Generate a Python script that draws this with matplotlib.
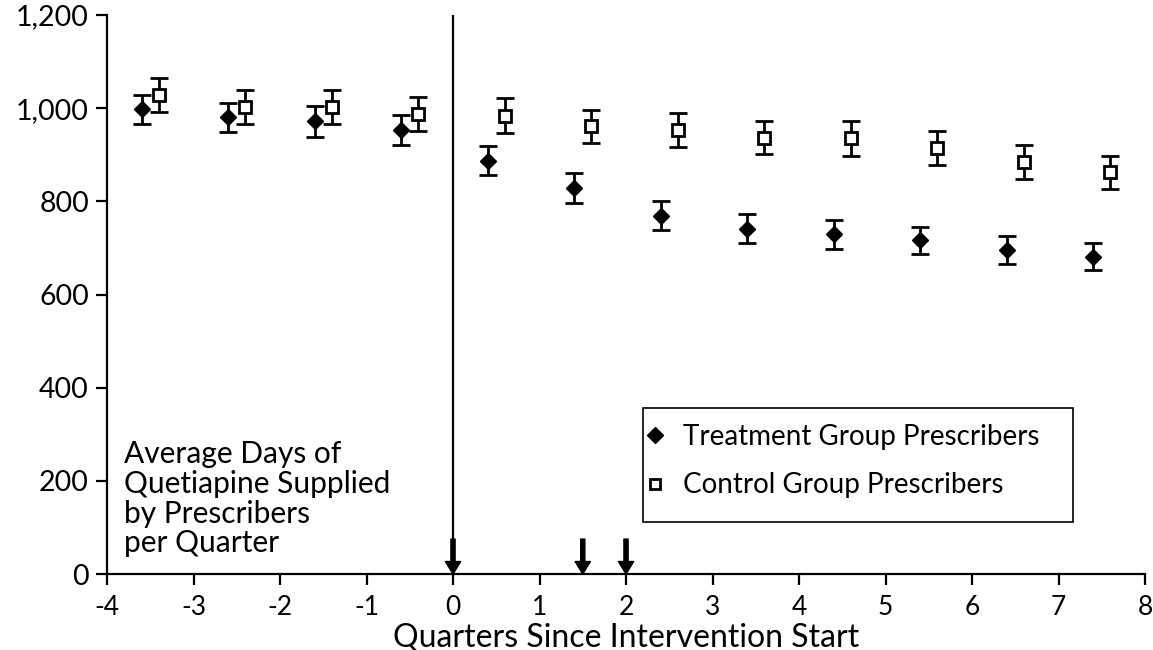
import matplotlib
matplotlib.use("Agg")
import matplotlib.pyplot as plt
from matplotlib.lines import Line2D
from matplotlib.patches import Rectangle
from matplotlib.ticker import FuncFormatter

plt.rcParams['font.family'] = ['Lato', 'DejaVu Sans']
plt.rcParams['axes.unicode_minus'] = False

# Data
treat_x = [-3.6, -2.6, -1.6, -0.6, 0.4, 1.4, 2.4, 3.4, 4.4, 5.4, 6.4, 7.4]
treat_y = [998, 980, 972, 953, 887, 828, 769, 741, 729, 716, 696, 681]
treat_err = [31, 32, 33, 33, 31, 32, 31, 31, 31, 30, 30, 29]

ctrl_x = [-3.4, -2.4, -1.4, -0.4, 0.6, 1.6, 2.6, 3.6, 4.6, 5.6, 6.6, 7.6]
ctrl_y = [1028, 1003, 1003, 987, 984, 961, 953, 937, 935, 915, 884, 862]
ctrl_err = [37, 36, 36, 36, 37, 36, 37, 36, 37, 37, 36, 36]

arrow_x = [0, 1.5, 2]
x_ticks = list(range(-4, 9))
y_ticks = [0, 200, 400, 600, 800, 1000, 1200]
labels = ['Treatment Group Prescribers', 'Control Group Prescribers']

fig = plt.figure(figsize=(11.53, 6.5), dpi=100)
ax = fig.add_axes([0.0928, 0.1169, 0.9003, 0.86])

ax.errorbar(treat_x, treat_y, yerr=treat_err, fmt='D', color='black',
            mfc='black', mec='black', ms=8.5, elinewidth=2, capsize=6.5,
            capthick=2, zorder=3)
ax.errorbar(ctrl_x, ctrl_y, yerr=ctrl_err, fmt='s', color='black',
            mfc='white', mec='black', ms=8, mew=2, elinewidth=2, capsize=6.5,
            capthick=2, zorder=3)

ax.plot([0, 0], [0, 1200], color='black', lw=1.6, zorder=2)

for xa in arrow_x:
    ax.annotate('', xy=(xa, 0), xytext=(xa, 75),
                arrowprops=dict(facecolor='black', edgecolor='black',
                                width=3, headwidth=11, headlength=9, shrink=0),
                zorder=4)

ax.set_xlim(-4, 8)
ax.set_ylim(0, 1200)
ax.set_xticks(x_ticks)
ax.set_yticks(y_ticks)
ax.yaxis.set_major_formatter(FuncFormatter(lambda v, p: f"{int(v):,}"))
for s in ['top', 'right']:
    ax.spines[s].set_visible(False)
for s in ['left', 'bottom']:
    ax.spines[s].set_linewidth(1.6)
ax.tick_params(axis='both', direction='out', length=8, width=1.6)
ax.tick_params(axis='y', labelsize=20.5, pad=5)
ax.tick_params(axis='x', labelsize=19, pad=7)
ax.set_xlabel('Quarters Since Intervention Start', fontsize=23)
ax.xaxis.set_label_coords(0.5, -0.086)

ax.text(-3.8, 287, 'Average Days of\nQuetiapine Supplied\nby Prescribers\nper Quarter',
        fontsize=21.5, va='top', ha='left', linespacing=1.07)

handles = [Line2D([], [], marker='D', ls='none', color='black', ms=8),
           Line2D([], [], marker='s', ls='none', mfc='white', mec='black', ms=7, mew=2)]
leg = ax.legend(handles, labels,
                loc='upper left', bbox_to_anchor=(0.515, 0.268),
                fontsize=20, frameon=False, borderpad=0, borderaxespad=0,
                labelspacing=0.8, handlelength=1.0, handletextpad=0.5)
ax.add_patch(Rectangle((0.5164, 0.093), 0.4143, 0.204, transform=ax.transAxes,
                       facecolor='none', edgecolor='black', lw=1.2, zorder=5))

fig.savefig('out.png', dpi=100)
